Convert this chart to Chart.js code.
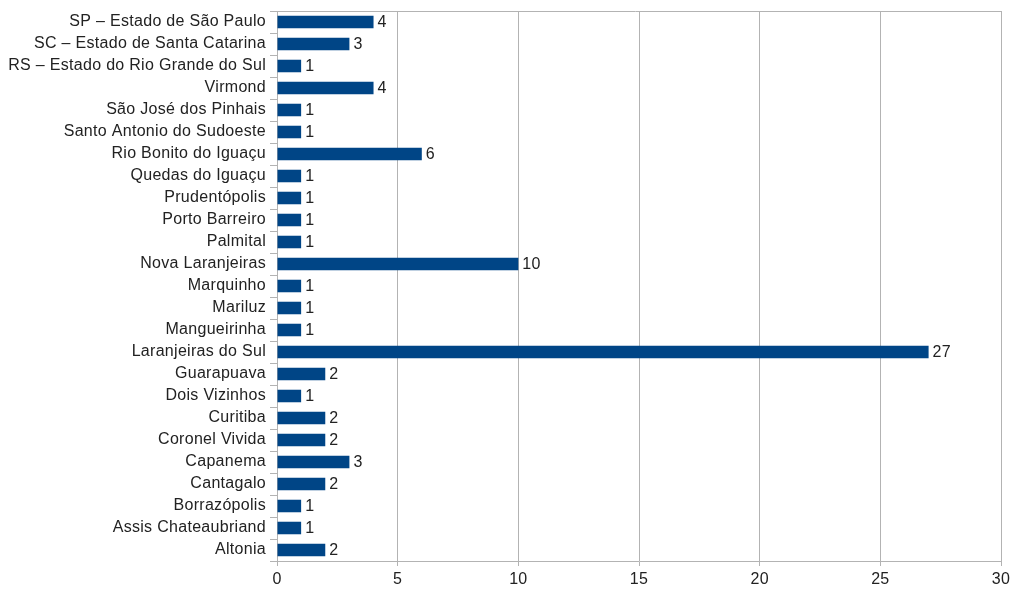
<!DOCTYPE html>
<html>
<head>
<meta charset="utf-8">
<script src="https://cdn.jsdelivr.net/npm/chart.js@4.4.0/dist/chart.umd.min.js"></script>
<style>
html,body{margin:0;padding:0;background:#fff;}
#wrap{width:1014px;height:589px;}
</style>
</head>
<body>
<div id="wrap"><canvas id="c" width="1014" height="589"></canvas></div>
<script>
const categories = [
  "SP – Estado de São Paulo",
  "SC – Estado de Santa Catarina",
  "RS – Estado do Rio Grande do Sul",
  "Virmond",
  "São José dos Pinhais",
  "Santo Antonio do Sudoeste",
  "Rio Bonito do Iguaçu",
  "Quedas do Iguaçu",
  "Prudentópolis",
  "Porto Barreiro",
  "Palmital",
  "Nova Laranjeiras",
  "Marquinho",
  "Mariluz",
  "Mangueirinha",
  "Laranjeiras do Sul",
  "Guarapuava",
  "Dois Vizinhos",
  "Curitiba",
  "Coronel Vivida",
  "Capanema",
  "Cantagalo",
  "Borrazópolis",
  "Assis Chateaubriand",
  "Altonia"
];
const values = [4,3,1,4,1,1,6,1,1,1,1,10,1,1,1,27,2,1,2,2,3,2,1,1,2];
const xTicks = [0,5,10,15,20,25,30];

const FONT = "'Liberation Sans', Arial, sans-serif";
const TEXT = '#222';
const GRID = '#b3b3b3';

const spacing = {
  id: 'spacing',
  beforeDraw(chart) { chart.ctx.letterSpacing = '0.3px'; }
};
const valueLabels = {
  id: 'valueLabels',
  afterDatasetsDraw(chart) {
    const ctx = chart.ctx;
    const meta = chart.getDatasetMeta(0);
    ctx.save();
    ctx.font = '16px ' + FONT;
    ctx.fillStyle = TEXT;
    ctx.textAlign = 'left';
    ctx.textBaseline = 'middle';
    meta.data.forEach((bar, i) => {
      ctx.fillText(String(values[i]), bar.x + 4, bar.y + 1);
    });
    ctx.restore();
  }
};
const topBorder = {
  id: 'topBorder',
  beforeDatasetsDraw(chart) {
    const a = chart.chartArea, ctx = chart.ctx;
    ctx.save();
    ctx.strokeStyle = GRID;
    ctx.lineWidth = 1;
    ctx.beginPath();
    ctx.moveTo(a.left - 7, Math.round(a.top) + 0.5);
    ctx.lineTo(a.right, Math.round(a.top) + 0.5);
    ctx.stroke();
    ctx.restore();
  }
};

new Chart(document.getElementById('c'), {
  type: 'bar',
  data: {
    labels: categories,
    datasets: [{
      data: values,
      backgroundColor: '#004586',
      borderWidth: 0,
      categoryPercentage: 1,
      barPercentage: 0.57
    }]
  },
  options: {
    indexAxis: 'y',
    responsive: false,
    animation: false,
    layout: { padding: { left: 0, top: 11, right: 13, bottom: 0 } },
    plugins: { legend: { display: false }, tooltip: { enabled: false } },
    scales: {
      x: {
        type: 'linear',
        min: 0, max: 30,
        afterBuildTicks(scale) { scale.ticks = xTicks.map(v => ({ value: v })); },
        afterFit(scale) { scale.height = 28; scale.paddingLeft = 0; scale.paddingRight = 0; },
        grid: { color: GRID, tickLength: 5, drawTicks: true },
        border: { color: GRID },
        ticks: { font: { family: FONT, size: 16 }, color: TEXT, padding: 4 }
      },
      y: {
        afterFit(scale) { scale.width = 277; scale.paddingTop = 0; scale.paddingBottom = 0; },
        grid: { drawOnChartArea: false, color: GRID, tickLength: 7, offset: true },
        border: { color: GRID },
        ticks: { font: { family: FONT, size: 16 }, color: TEXT, padding: 4, autoSkip: false }
      }
    }
  },
  plugins: [spacing, valueLabels, topBorder]
});
</script>
</body>
</html>
